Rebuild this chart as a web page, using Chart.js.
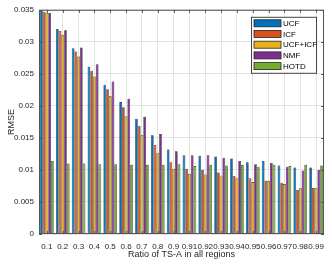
<!DOCTYPE html>
<html lang="en">
<head>
<meta charset="UTF-8">
<title>RMSE vs ratio of TS-A</title>
<script src="https://cdn.jsdelivr.net/npm/chart.js@4/dist/chart.umd.min.js"></script>
<style>
  * { box-sizing: border-box; margin: 0; padding: 0; }
  body { background: #fff; width: 332px; height: 264px; overflow: hidden; }
  #wrap { position: relative; width: 332px; height: 264px; }
</style>
</head>
<body>
<div id="wrap"><canvas id="chart" width="332" height="264"></canvas></div>
<script>
const categories = ['0.1', '0.2', '0.3', '0.4', '0.5', '0.6', '0.7', '0.8', '0.9',
  '0.91', '0.92', '0.93', '0.94', '0.95', '0.96', '0.97', '0.98', '0.99']
const seriesNames = ['UCF', 'ICF', 'UCF+ICF', 'NMF', 'HOTD']
const seriesColors = ['#0072BD', '#D95319', '#EDB120', '#7E2F8E', '#77AC30']
const ucf = [0.0349, 0.0320, 0.0290, 0.0261, 0.0233, 0.0206, 0.0180, 0.0154, 0.0132,
  0.0123, 0.0122, 0.0121, 0.0118, 0.0112, 0.0114, 0.0107, 0.0104, 0.0104]
const icf = [0.0347, 0.0317, 0.0285, 0.0255, 0.0226, 0.0198, 0.0169, 0.0139, 0.0112,
  0.0102, 0.0100, 0.0096, 0.0090, 0.0087, 0.0083, 0.0080, 0.0069, 0.0072]
const ucfIcf = [0.0345, 0.0311, 0.0277, 0.0246, 0.0215, 0.0184, 0.0154, 0.0127, 0.0102,
  0.0094, 0.0093, 0.0091, 0.0087, 0.0081, 0.0083, 0.0078, 0.0072, 0.0072]
const nmf = [0.0345, 0.0318, 0.0291, 0.0265, 0.0238, 0.0211, 0.0183, 0.0156, 0.0129,
  0.0123, 0.0123, 0.0119, 0.0114, 0.0109, 0.0111, 0.0105, 0.0099, 0.0100]
const hotd = [0.0114, 0.0110, 0.0110, 0.0109, 0.0109, 0.0108, 0.0108, 0.0108, 0.0109,
  0.0106, 0.0108, 0.0107, 0.0108, 0.0105, 0.0108, 0.0106, 0.0108, 0.0107]
const yTicks = [0, 0.005, 0.01, 0.015, 0.02, 0.025, 0.03, 0.035]

const FONT = 'Liberation Sans, Arial, Helvetica, sans-serif'
const values = [ucf, icf, ucfIcf, nmf, hotd]

// box round the axes + small inward ticks, like matlab "box on"
const boxPlugin = {
  id: 'box',
  afterDatasetsDraw(chart) {
    const { ctx, chartArea: a, scales } = chart
    ctx.save()
    ctx.strokeStyle = '#555'
    ctx.lineWidth = 1
    ctx.strokeRect(a.left + 0.5, a.top + 0.5, a.right - a.left - 1, a.bottom - a.top - 1)
    ctx.beginPath()
    categories.forEach((c, i) => {
      const x = Math.round(scales.x.getPixelForValue(i)) + 0.5
      ctx.moveTo(x, a.top); ctx.lineTo(x, a.top + 3)
      ctx.moveTo(x, a.bottom); ctx.lineTo(x, a.bottom - 3)
    })
    yTicks.forEach(v => {
      const y = Math.round(scales.y.getPixelForValue(v)) + 0.5
      ctx.moveTo(a.left, y); ctx.lineTo(a.left + 3, y)
      ctx.moveTo(a.right, y); ctx.lineTo(a.right - 3, y)
    })
    ctx.stroke()
    ctx.restore()
  }
}

// legend box in the top right corner
const legendPlugin = {
  id: 'boxLegend',
  afterDraw(chart) {
    const { ctx, chartArea: a } = chart
    const x0 = a.right - 73, y0 = a.top + 7, w = 65, h = 56
    ctx.save()
    ctx.fillStyle = '#fff'
    ctx.fillRect(x0, y0, w, h)
    ctx.strokeStyle = '#444'
    ctx.lineWidth = 1
    ctx.strokeRect(x0 + 0.5, y0 + 0.5, w, h)
    ctx.font = '8px ' + FONT
    ctx.textBaseline = 'middle'
    seriesNames.forEach((name, i) => {
      const cy = y0 + 6.5 + i * 10.7
      ctx.fillStyle = seriesColors[i]
      ctx.fillRect(x0 + 3, cy - 3.5, 27, 7)
      ctx.strokeStyle = '#222'
      ctx.lineWidth = 0.8
      ctx.strokeRect(x0 + 3, cy - 3.5, 27, 7)
      ctx.fillStyle = '#000'
      ctx.fillText(name, x0 + 32, cy + 0.5)
    })
    ctx.restore()
  }
}

new Chart(document.getElementById('chart'), {
  type: 'bar',
  data: {
    labels: categories,
    datasets: seriesNames.map((name, i) => ({
      label: name,
      data: values[i],
      backgroundColor: seriesColors[i],
      borderColor: '#1a1a1a',
      borderWidth: 0.6,
      categoryPercentage: 0.86,
      barPercentage: 1
    }))
  },
  options: {
    responsive: false,
    animation: false,
    devicePixelRatio: 1,
    layout: { padding: { top: 4, right: 4, left: 2, bottom: 0 } },
    plugins: { legend: { display: false }, tooltip: { enabled: false } },
    scales: {
      x: {
        afterFit(scale) { scale.height = 30 },
        grid: { color: '#e3e3e3', offset: false, drawTicks: false },
        border: { display: false },
        ticks: { color: '#262626', font: { size: 8, family: FONT }, autoSkip: false, maxRotation: 0, padding: 8 },
        title: { display: true, text: 'Ratio of TS-A in all regions', color: '#262626', font: { size: 9, family: FONT }, padding: { top: 3 } }
      },
      y: {
        min: 0,
        max: 0.035,
        afterFit(scale) { scale.width = 37 },
        afterBuildTicks(scale) { scale.ticks = yTicks.map(v => ({ value: v })) },
        grid: { color: '#e3e3e3', drawTicks: false },
        border: { display: false },
        ticks: {
          color: '#262626', font: { size: 8, family: FONT }, padding: 5,
          callback: v => String(+v.toFixed(3))
        },
        title: { display: true, text: 'RMSE', color: '#262626', font: { size: 9, family: FONT }, padding: { bottom: 0 } }
      }
    }
  },
  plugins: [boxPlugin, legendPlugin]
})
</script>
</body>
</html>
